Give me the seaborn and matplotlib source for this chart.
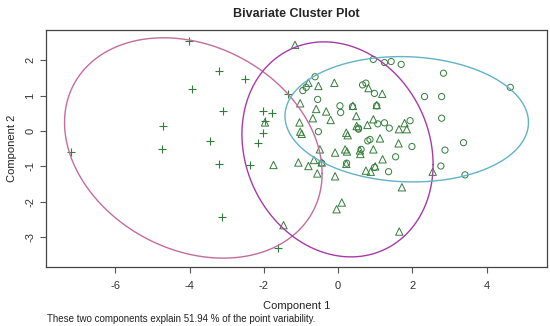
import numpy as np
import pandas as pd
import seaborn as sns
import matplotlib
matplotlib.use('Agg')
import matplotlib.pyplot as plt

sns.set_theme(style='white')
plt.rcParams['font.family'] = ['Liberation Sans', 'DejaVu Sans']
plt.rcParams['axes.unicode_minus'] = False

# cluster 3 (plus)
plus_x = [-4.03, -3.20, -2.51, -3.94, -3.11, -4.71, -3.45, -4.74, -7.20, -3.20, -3.13,
          -2.01, -1.79, -1.97, -2.03, -2.15, -2.37, -1.63, -1.34]
plus_y = [2.54, 1.70, 1.46, 1.19, 0.57, 0.15, -0.28, -0.52, -0.60, -0.94, -2.42,
          0.55, 0.50, 0.28, -0.06, -0.33, -0.96, -3.29, 1.05]

# cluster 2 (triangles)
tri_x = [-1.16, -0.80, -0.53, -0.10, -1.02, -0.59, -0.32, -0.68, -0.20, -1.04, -1.02, -0.98,
         -1.97, 0.82, 1.19, 0.40, 1.04, 0.49, 0.22, 0.26, 0.79, 0.95, 0.50, 1.64, 1.85, 1.79,
         1.13, 0.95, 0.59, 0.19, 0.24, 1.63, 1.20, -0.49, -0.08, -1.74, -1.07, -0.80, -0.65,
         -0.44, -0.56, -0.08, 0.22, 0.75, 0.88, 1.00, 1.72, 2.55, 0.10, -0.04, -1.47, 1.65, 0.60]
tri_y = [2.43, 1.36, 1.27, 1.36, 0.78, 0.62, 0.55, 0.36, 0.31, 0.24, -0.02, -0.08,
         0.24, 1.21, 1.05, 0.71, 0.73, 0.42, -0.05, -0.12, 0.17, 0.33, 0.14, 0.05, 0.05, 0.22,
         -0.21, -0.52, -0.55, -0.52, -0.58, -0.35, -0.80, -0.52, -0.61, -0.96, -0.89, -0.99, -0.82,
         -0.89, -1.20, -1.28, -0.93, -1.12, -1.15, -1.00, -1.59, -1.15, -2.02, -2.21, -2.66, -2.84, -0.65]

# cluster 1 (circles)
circ_x = [-0.62, -0.95, -0.86, -0.55, 0.05, 0.07, 0.66, 0.75, 0.98, 0.95, 1.25, 1.43, 1.70,
          2.84, 4.64, 2.33, 2.79, 0.39, -0.53, 0.55, 1.07, 1.25, 1.38, 1.94, 2.79, 0.86, 0.80,
          1.99, 3.38, 2.88, 0.62, 1.55, 0.98, 1.36, 2.77, 3.42, -0.44, 0.23, 0.55, 1.04]
circ_y = [1.53, 1.14, 1.23, 0.89, 0.71, 0.52, 1.30, 1.35, 1.06, 2.02, 1.93, 1.96, 1.88,
          1.63, 1.23, 0.97, 0.97, 0.69, -0.02, 0.08, 0.20, 0.23, 0.08, 0.29, 0.36, -0.24, -0.28,
          -0.44, -0.33, -0.54, -0.52, -0.73, -1.03, -1.15, -0.99, -1.24, -0.91, -0.91, 0.05, 0.71]

# ellipses: center, covariance-like shape (xx, yy, xy)
ell_cx = [-3.9, -0.015, 1.85]
ell_cy = [-0.48, -0.52, 0.33]
ell_xx = [12.04, 6.63, 10.76]
ell_yy = [9.67, 9.21, 3.13]
ell_xy = [-2.5, -1.1, -0.3]
ell_col = ['#c46c9e', '#a83aa8', '#62b2c8']

green = '#337d3a'

fig = plt.figure(figsize=(5.5, 3.26), dpi=100)
ax = fig.add_axes([0.0836, 0.181, 0.911, 0.727])

t = np.linspace(0, 2 * np.pi, 300)
for i in range(3):
    m = np.array([[ell_xx[i], ell_xy[i]], [ell_xy[i], ell_yy[i]]])
    L = np.linalg.cholesky(m)
    pts = L @ np.vstack([np.cos(t), np.sin(t)])
    ax.plot(ell_cx[i] + pts[0], ell_cy[i] + pts[1], color=ell_col[i], lw=1.0)

df1 = pd.DataFrame({'x': circ_x, 'y': circ_y})
df2 = pd.DataFrame({'x': tri_x, 'y': tri_y})
df3 = pd.DataFrame({'x': plus_x, 'y': plus_y})
sns.scatterplot(data=df1, x='x', y='y', marker='o', s=20, facecolor='none',
                edgecolor=green, linewidth=0.7, ax=ax)
sns.scatterplot(data=df2, x='x', y='y', marker='^', s=28, facecolor='none',
                edgecolor=green, linewidth=0.7, ax=ax)
sns.scatterplot(data=df3, x='x', y='y', marker='+', s=40, color=green,
                linewidth=0.8, ax=ax)

ax.set_xlim(-7.87, 5.63)
ax.set_ylim(-3.84, 2.85)
ax.set_xticks([-6, -4, -2, 0, 2, 4])
ax.set_yticks([-3, -2, -1, 0, 1, 2])
for s in ax.spines.values():
    s.set_color('#444444')
    s.set_linewidth(0.9)
ax.tick_params(axis='both', direction='out', length=4, width=0.8, color='#555555',
               labelsize=8, labelcolor='#333333', bottom=True, left=True)
ax.tick_params(axis='x', pad=6)
plt.setp(ax.get_yticklabels(), rotation=90, va='center')
ax.set_xlabel('Component 1', fontsize=8, color='#222222')
ax.xaxis.set_label_coords(0.5, -0.165)
ax.xaxis.label.set_va('center')
ax.set_ylabel('Component 2', fontsize=8, color='#222222', labelpad=6)
ax.set_title('Bivariate Cluster Plot', fontsize=9, fontweight='bold', pad=9)
fig.text(47 / 550, 1 - 319 / 326, 'These two components explain 51.94 % of the point variability.',
         fontsize=7, color='#222222', va='center', ha='left')

fig.savefig('out.png', dpi=100)
